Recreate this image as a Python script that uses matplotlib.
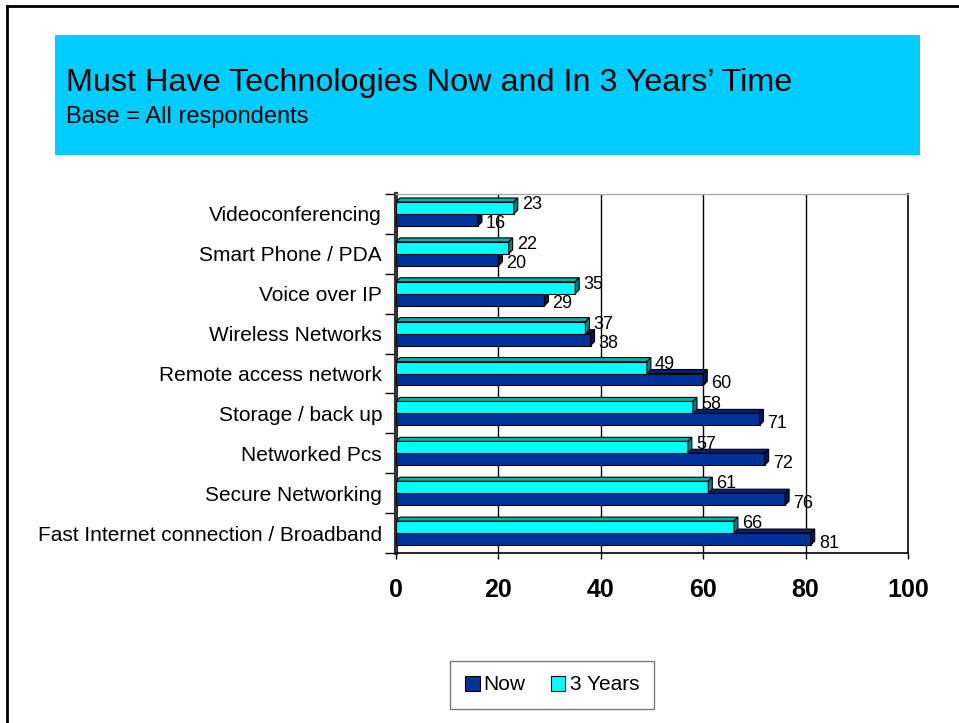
import matplotlib.pyplot as plt
import numpy as np
from matplotlib.patches import Polygon, Rectangle, Patch
from matplotlib.lines import Line2D

plt.rcParams['font.family'] = ['Liberation Sans', 'DejaVu Sans']

# data (top to bottom as shown)
categories = ['Videoconferencing', 'Smart Phone / PDA', 'Voice over IP', 'Wireless Networks',
              'Remote access network', 'Storage / back up', 'Networked Pcs',
              'Secure Networking', 'Fast Internet connection / Broadband']
now = [16, 20, 29, 38, 60, 71, 72, 76, 81]
years3 = [23, 22, 35, 37, 49, 58, 57, 61, 66]

NAVY = '#003399'
CYAN = '#00FFFF'

W, H = 959, 723
fig = plt.figure(figsize=(W / 100, H / 100), dpi=100)

# outer frame (left + top)
fig.add_artist(Line2D([7 / W, 7 / W], [0, 1 - 6 / H], transform=fig.transFigure, color='black', lw=2))
fig.add_artist(Line2D([7 / W, 1], [1 - 6 / H, 1 - 6 / H], transform=fig.transFigure, color='black', lw=2))

# title box
fig.add_artist(Rectangle((55 / W, 1 - 155 / H), 865 / W, 120 / H, transform=fig.transFigure,
                         facecolor='#00CCFF', edgecolor='none'))
fig.text(66 / W, 1 - 83 / H, 'Must Have Technologies Now and In 3 Years\u2019 Time',
         fontsize=23.3, va='center', ha='left')
fig.text(66 / W, 1 - 117 / H, 'Base = All respondents', fontsize=17, va='center', ha='left')

# plot area
ax = fig.add_axes([396 / W, 1 - 553 / H, 512 / W, 359 / H])
n = len(categories)
pos = np.arange(n)[::-1]  # top category at highest y
ax.set_xlim(0, 100)
ax.set_ylim(-0.5, n - 0.5)

h = 0.3
dx = 4 / 5.12
dy = 4 / 39.9


def bar3d(y, v, face, side, top, z):
    ax.barh(y, v, height=h, color=face, edgecolor='black', lw=0.8, zorder=z)
    ax.add_patch(Polygon([(0, y + h / 2), (dx, y + h / 2 + dy), (v + dx, y + h / 2 + dy), (v, y + h / 2)],
                         closed=True, facecolor=top, edgecolor='black', lw=0.8, zorder=z))
    ax.add_patch(Polygon([(v, y - h / 2), (v + dx, y - h / 2 + dy), (v + dx, y + h / 2 + dy), (v, y + h / 2)],
                         closed=True, facecolor=side, edgecolor='black', lw=0.8, zorder=z))


for i in range(n):
    bar3d(pos[i] - h / 2, now[i], NAVY, '#001a4d', '#002266', 3)
    bar3d(pos[i] + h / 2, years3[i], CYAN, '#008080', '#00b3b3', 4)
    ax.text(now[i] + dx + 0.8, pos[i] - h / 2 - 0.1, str(now[i]), fontsize=13,
            va='center', ha='left', zorder=6)
    ax.text(years3[i] + dx + 0.8, pos[i] + h / 2 + 0.08, str(years3[i]), fontsize=13,
            va='center', ha='left', zorder=6)

# grid
for gx in [20, 40, 60, 80]:
    ax.axvline(gx, color='black', lw=1, zorder=1)

ax.set_xticks([0, 20, 40, 60, 80, 100])
ax.set_xticklabels(['0', '20', '40', '60', '80', '100'], fontsize=18, fontweight='bold')
ax.tick_params(axis='x', length=4, width=1, pad=14)

ax.set_yticks(pos)
ax.set_yticklabels(categories, fontsize=15)
ax.set_yticks(np.arange(n + 1) - 0.5, minor=True)
ax.tick_params(axis='y', which='major', length=0, pad=10)
ax.tick_params(axis='y', which='minor', length=8, width=1, direction='out')

ax.spines['left'].set_linewidth(3)
ax.spines['left'].set_color('#333333')
ax.spines['bottom'].set_linewidth(1.2)
ax.spines['right'].set_linewidth(1.2)
ax.spines['top'].set_color('#aaaaaa')
ax.spines['top'].set_linewidth(1)

# legend
handles = [Patch(facecolor=NAVY, edgecolor='black', lw=0.8, label='Now'),
           Patch(facecolor=CYAN, edgecolor='black', lw=0.8, label='3 Years')]
leg = fig.legend(handles=handles, loc='center', bbox_to_anchor=(552 / W, 1 - 685 / H), ncol=2,
                 fontsize=15, frameon=True, fancybox=False, edgecolor='#555555',
                 handlelength=0.7, handleheight=0.7, handletextpad=0.2, columnspacing=1.2,
                 borderpad=0.7)
leg.get_frame().set_linewidth(1)

fig.savefig('out.png', dpi=100)
